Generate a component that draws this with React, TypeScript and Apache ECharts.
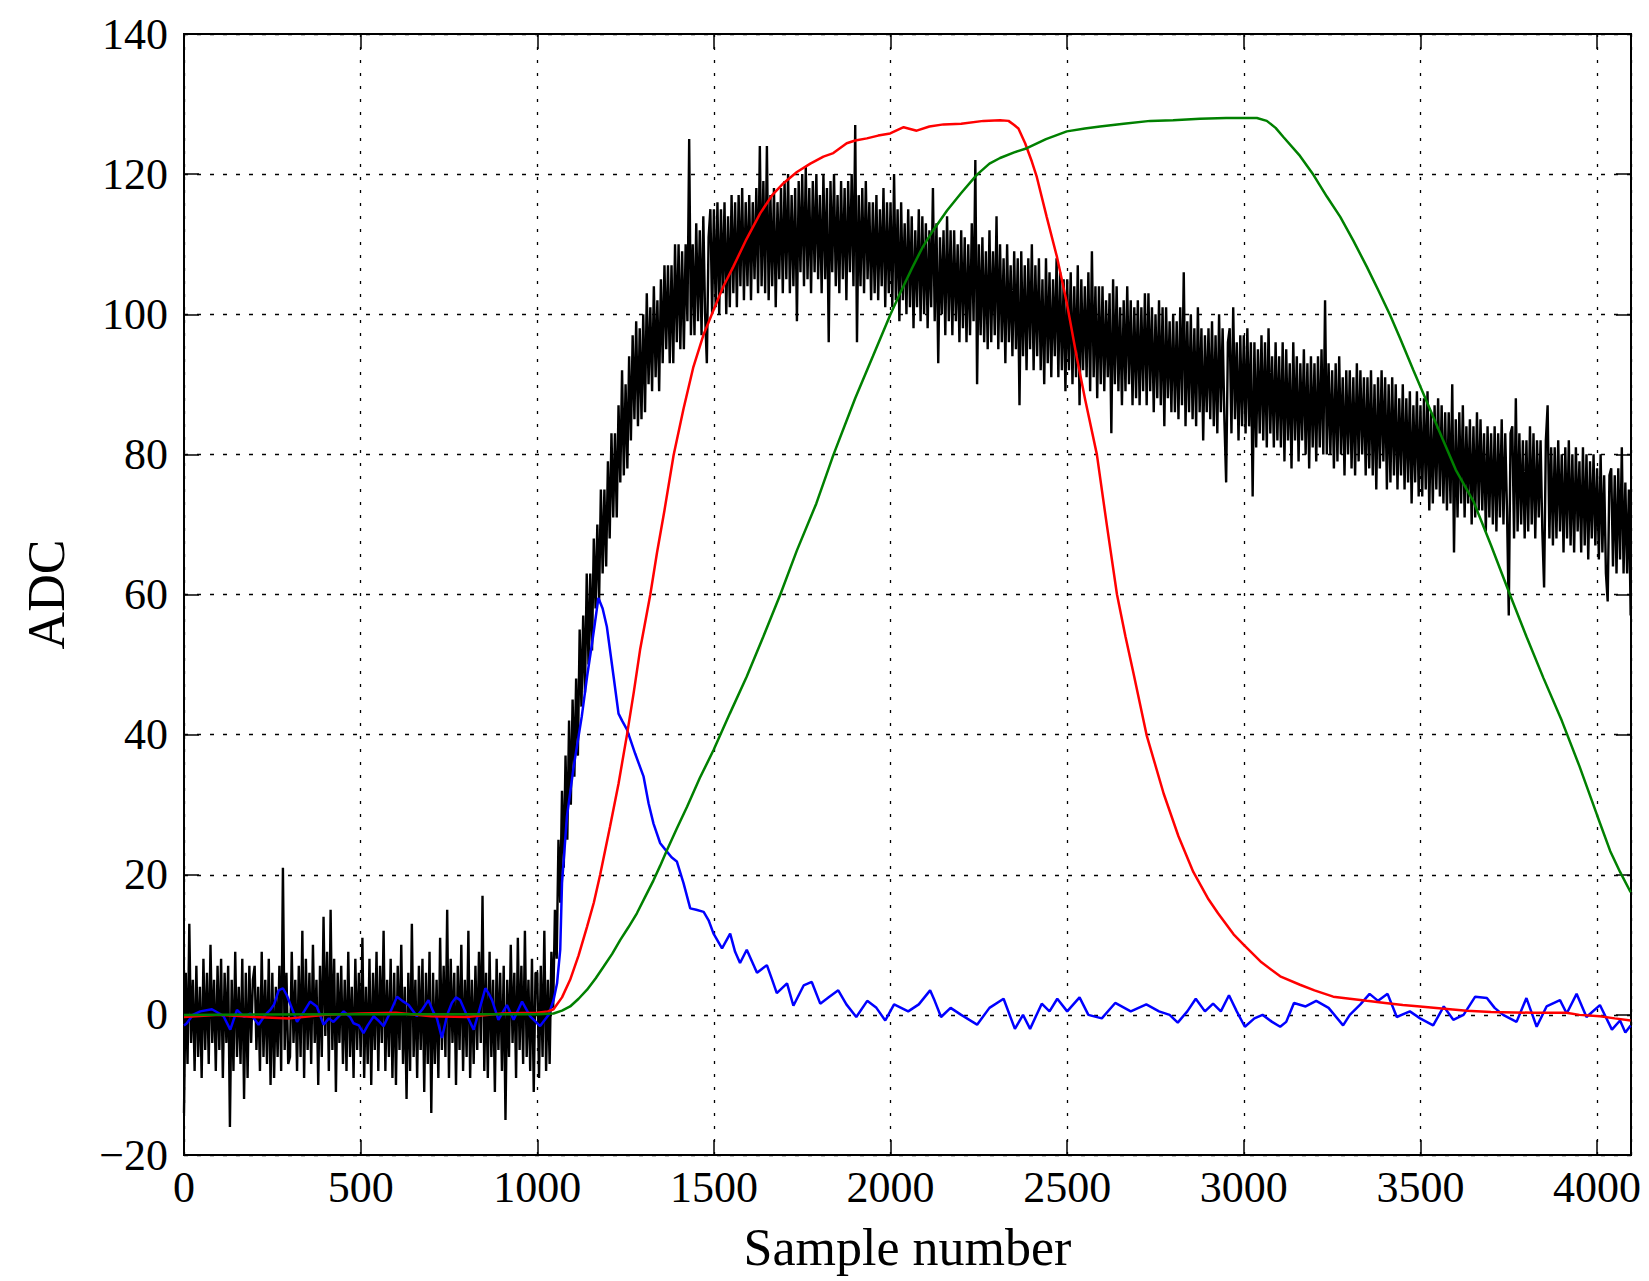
import React, { useEffect, useRef } from "react";
import * as echarts from "echarts";

// Black trace: one value every blackStep samples, from sample 0 to 4095
const blackStep = 5;
const blackValues: number[] = [
  -14, 6, -7, 13, -4, 5, -8, 7, -6, 4, -9, 8, -5, 6, -7, 10, -4, 5, -8, 7,
  -5, 8, -9, 6, -4, 7, -16, 5, -8, 9, -6, 4, -7, 8, -12, 6, -9, 7, -4, 5,
  7, -5, 4, -8, 9, -6, 5, -7, 8, -10, 6, -9, 4, -6, 7, -8, 21, -5, 6, -7,
  -6, 9, -4, 5, -8, 7, -6, 12, -9, 8, -5, 6, -7, 10, -4, 5, -10, 7, -6, 14,
  -3, 9, -8, 15, -5, 8, -11, 6, -4, 7, -7, 5, -8, 9, -6, 4, -9, 8, -5, 6,
  -6, 11, -9, 4, -7, 8, -10, 6, -5, 9, -8, 7, -4, 12, -8, 5, -6, 8, -9, 6,
  -10, 7, -5, 10, -7, 4, -12, 6, -8, 13, -6, 5, -9, 7, -5, 8, -11, 6, -7, 9,
  -14, 6, -7, 5, -9, 11, -5, 7, -6, 15, -9, 8, -4, 6, -10, 7, -5, 10, -8, 5,
  -6, 12, -9, 5, -7, 7, -5, 9, -4, 17, -8, 6, -9, 9, -6, 5, -11, 8, -5, 6,
  -8, 7, -15, 5, -6, 10, -4, 6, -9, 11, -5, 7, -7, 12, -6, 5, -8, 8, -11, 6,
  6, -9, 7, -6, 12, -8, 5, -7, 9, 1, 15, 8, 25, 16, 32, 21, 37, 25, 42, 30,
  45, 34, 48, 37, 55, 44, 57, 46, 63, 50, 63, 52, 68, 58, 70, 59, 75, 63, 75, 64,
  79, 68, 83, 71, 83, 71, 87, 76, 92, 77, 90, 78, 94, 82, 97, 85, 99, 84, 98, 85,
  100, 86, 103, 90, 101, 89, 104, 91, 102, 89, 105, 93, 107, 95, 107, 93, 107, 93, 110, 96,
  110, 95, 109, 95, 110, 99, 125, 97, 110, 97, 113, 99, 112, 97, 114, 100, 93, 111, 115, 100,
  115, 101, 116, 100, 115, 103, 116, 100, 114, 101, 117, 103, 116, 101, 117, 104, 118, 102, 116, 104,
  117, 102, 116, 105, 118, 103, 124, 104, 119, 103, 124, 102, 117, 104, 118, 101, 116, 105, 118, 103,
  119, 105, 120, 103, 117, 104, 118, 99, 119, 106, 120, 104, 121, 105, 118, 103, 119, 106, 120, 105,
  117, 103, 120, 105, 118, 96, 119, 106, 120, 104, 117, 103, 119, 105, 118, 102, 119, 106, 120, 104,
  127, 96, 117, 104, 118, 103, 119, 105, 116, 102, 116, 103, 117, 102, 115, 104, 118, 101, 116, 103,
  116, 101, 120, 102, 115, 99, 116, 102, 113, 100, 115, 101, 114, 98, 112, 101, 115, 99, 114, 100,
  113, 98, 112, 101, 118, 99, 113, 93, 111, 100, 112, 97, 114, 99, 112, 97, 112, 99, 110, 96,
  112, 98, 111, 96, 110, 97, 113, 99, 122, 90, 110, 97, 111, 96, 109, 95, 112, 96, 109, 97,
  114, 95, 110, 96, 108, 93, 110, 96, 107, 94, 109, 95, 108, 87, 109, 94, 107, 92, 108, 95,
  110, 92, 107, 94, 108, 92, 105, 90, 108, 93, 106, 91, 105, 94, 108, 91, 106, 92, 105, 89,
  105, 92, 106, 90, 104, 91, 107, 87, 105, 92, 104, 91, 106, 89, 109, 91, 104, 88, 104, 90,
  104, 89, 102, 91, 103, 83, 105, 90, 104, 89, 101, 87, 102, 89, 104, 90, 102, 87, 101, 88,
  102, 87, 101, 89, 103, 87, 103, 89, 101, 86, 100, 88, 102, 87, 101, 84, 101, 88, 99, 86,
  100, 86, 99, 85, 101, 87, 106, 84, 99, 86, 100, 85, 98, 84, 101, 86, 98, 82, 97, 86,
  98, 85, 99, 84, 97, 83, 100, 86, 98, 85, 76, 96, 98, 83, 101, 85, 96, 82, 97, 84,
  97, 83, 98, 84, 96, 74, 96, 81, 95, 83, 97, 82, 96, 81, 98, 83, 94, 81, 96, 82,
  94, 81, 96, 79, 95, 82, 93, 78, 96, 82, 94, 79, 93, 82, 95, 80, 93, 78, 94, 81,
  93, 79, 94, 81, 95, 80, 102, 80, 93, 80, 92, 78, 93, 79, 94, 80, 91, 77, 92, 80,
  92, 78, 91, 77, 93, 79, 92, 80, 91, 77, 91, 78, 92, 77, 90, 75, 91, 78, 92, 79,
  91, 75, 90, 76, 91, 77, 90, 75, 88, 77, 90, 75, 88, 76, 89, 73, 87, 76, 89, 74,
  87, 74, 88, 75, 89, 72, 86, 73, 87, 75, 88, 74, 87, 73, 86, 72, 86, 73, 90, 66,
  85, 71, 86, 73, 87, 71, 84, 73, 85, 70, 84, 71, 86, 72, 85, 72, 83, 69, 84, 71,
  83, 70, 84, 69, 83, 71, 85, 70, 83, 72, 57, 83, 84, 68, 88, 69, 83, 70, 82, 68,
  82, 69, 84, 70, 83, 68, 82, 71, 82, 69, 61, 82, 87, 68, 81, 67, 81, 68, 82, 69,
  80, 66, 81, 68, 82, 67, 80, 66, 81, 69, 79, 66, 81, 67, 80, 65, 79, 68, 80, 67,
  78, 65, 80, 66, 77, 63, 59, 77, 78, 64, 77, 63, 78, 65, 81, 63, 76, 63, 75, 57,
];

const bluePoints: [number, number][] = [
  [0, -1.5], [8, -1.2], [25, 0], [46, 0.5], [79, 0.8], [100, 0.2], [112, -0.2], [131, -2.1],
  [150, 0.7], [170, -0.3], [188, 0.2], [211, -1.4], [230, 0], [244, 0.7], [255, 1.5], [268, 3.5],
  [280, 3.8], [291, 2.8], [305, 1], [320, -1], [340, 0.5], [357, 1.9], [376, 1.2], [395, -1.4],
  [410, -0.5], [423, -1], [452, 0.5], [470, -0.3], [480, -1.2], [495, -1.5], [508, -2.6], [520, -1.5],
  [537, -0.2], [550, -0.8], [565, -1.6], [585, 0.5], [603, 2.6], [618, 2.0], [636, 1.4], [659, -0.2],
  [675, 0.8], [692, 2.1], [705, 0.5], [716, -0.5], [730, -3.3], [745, 0], [758, 1.7], [770, 2.5],
  [782, 2.1], [800, 0], [820, -2.1], [835, 0.5], [853, 3.8], [863, 3], [872, 2.1], [890, -0.7],
  [914, 1.4], [933, -0.7], [957, 1.9], [980, -0.2], [1008, -1.6], [1032, 0], [1046, 2.1], [1056, 4.5],
  [1065, 9.3], [1070, 18.8], [1084, 28.3], [1103, 35.4], [1126, 42.6], [1141, 48.3], [1155, 53],
  [1173, 59.5], [1185, 58], [1197, 55.4], [1216, 48.3], [1230, 43], [1240, 42], [1254, 40.7],
  [1277, 37.3], [1301, 34], [1315, 30.2], [1329, 27.3], [1348, 24.5], [1367, 23.3], [1380, 22.5],
  [1395, 21.9], [1414, 18.8], [1433, 15.2], [1450, 15], [1471, 14.7], [1485, 13.5], [1499, 11.6],
  [1523, 9.5], [1546, 11.6], [1560, 9], [1574, 7.4], [1593, 9.3], [1622, 6], [1650, 7.1], [1665, 5],
  [1678, 3.1], [1707, 4.5], [1725, 1.3], [1754, 4.2], [1777, 4.7], [1801, 1.6], [1825, 2.5],
  [1852, 3.5], [1875, 1.5], [1903, -0.3], [1934, 2], [1960, 1], [1985, -0.8], [2010, 1.5],
  [2050, 0.5], [2080, 1.5], [2112, 3.5], [2125, 2], [2143, -0.3], [2170, 1], [2200, 0], [2245, -1.4],
  [2280, 1], [2320, 2.3], [2352, -2], [2375, 0], [2395, -2], [2428, 1.6], [2450, 0.5], [2472, 2.3],
  [2500, 0.5], [2535, 2.5], [2560, 0], [2598, -0.5], [2636, 1.7], [2680, 0.5], [2724, 1.5],
  [2760, 0.5], [2790, 0], [2813, -1.1], [2840, 0.5], [2864, 2.3], [2890, 0.5], [2913, 1.6],
  [2935, 0.5], [2958, 2.8], [2980, 0.5], [3003, -1.7], [3030, -0.5], [3053, 0], [3080, -1],
  [3103, -1.7], [3120, -1], [3142, 1.7], [3175, 1.2], [3205, 2], [3240, 1], [3281, -1.5], [3300, 0],
  [3330, 1.5], [3356, 3], [3380, 2], [3407, 3], [3433, -0.3], [3470, 0.5], [3499, -0.5], [3536, -1.5],
  [3566, 1.2], [3593, -0.7], [3622, 0], [3655, 2.6], [3688, 2.4], [3710, 1], [3734, 0], [3772, -1],
  [3800, 2.4], [3829, -1.7], [3857, 1.2], [3895, 2.1], [3914, 0.2], [3942, 3], [3970, -0.3],
  [4008, 1.4], [4042, -2.1], [4065, -0.8], [4080, -2.5], [4095, -1.5],
];

const redPoints: [number, number][] = [
  [0, -0.3], [100, 0], [200, -0.3], [300, -0.5], [400, 0], [500, 0.2], [600, 0.3], [700, -0.2],
  [800, -0.3], [900, 0.2], [1000, 0.3], [1030, 0.5], [1046, 0.8], [1070, 2.5], [1093, 5],
  [1117, 8.5], [1141, 12.6], [1160, 16], [1178, 20], [1206, 26.9], [1230, 33], [1254, 40],
  [1273, 46], [1291, 52.1], [1320, 60], [1339, 66], [1360, 72], [1386, 79.9], [1414, 86.5],
  [1442, 92.5], [1470, 97], [1499, 100.6], [1527, 104], [1555, 106.8], [1590, 110.5], [1631, 114.4],
  [1665, 117], [1697, 118.7], [1735, 120.3], [1773, 121.5], [1810, 122.5], [1838, 123], [1876, 124.4],
  [1900, 124.8], [1933, 125.1], [1965, 125.5], [1999, 125.8], [2037, 126.7], [2074, 126.2],
  [2110, 126.8], [2150, 127.1], [2200, 127.2], [2263, 127.6], [2310, 127.7], [2334, 127.6],
  [2350, 127], [2362, 126.5], [2381, 124.4], [2400, 121.8], [2414, 119.6], [2442, 113.9],
  [2471, 108.2], [2499, 101.6], [2527, 93.9], [2551, 87.8], [2584, 80], [2612, 70], [2641, 60],
  [2665, 54], [2688, 48.7], [2725, 39.9], [2773, 31.6], [2815, 25.5], [2857, 20.4], [2900, 16.5],
  [2927, 14.5], [2971, 11.5], [3000, 10], [3050, 7.5], [3103, 5.5], [3159, 4.3], [3200, 3.5],
  [3253, 2.6], [3300, 2.3], [3348, 2], [3400, 1.7], [3450, 1.4], [3499, 1.2], [3560, 0.9],
  [3631, 0.6], [3700, 0.4], [3819, 0.3], [3913, 0.3], [3950, 0], [4008, -0.2], [4050, -0.5],
  [4095, -0.8],
];

const greenPoints: [number, number][] = [
  [0, 0], [500, 0.1], [1000, 0.1], [1046, 0.2], [1070, 0.6], [1093, 1.2], [1117, 2.3], [1141, 3.6],
  [1165, 5.2], [1188, 6.9], [1212, 8.7], [1235, 10.7], [1258, 12.5], [1282, 14.5], [1305, 16.8],
  [1329, 19.2], [1348, 21.3], [1367, 23.5], [1395, 26.6], [1424, 29.7], [1460, 33.8], [1499, 37.8],
  [1545, 43], [1593, 48.3], [1640, 54], [1688, 60], [1735, 66.3], [1790, 73], [1838, 79.9],
  [1900, 88], [1950, 94], [1999, 99.9], [2027, 103], [2060, 106.5], [2090, 109.5], [2121, 112],
  [2160, 114.8], [2200, 117.3], [2244, 119.9], [2280, 121.5], [2310, 122.3], [2350, 123.1],
  [2386, 123.7], [2440, 125], [2499, 126.1], [2550, 126.5], [2593, 126.8], [2660, 127.2],
  [2735, 127.6], [2800, 127.7], [2876, 127.9], [2950, 128], [2999, 128], [3037, 128], [3065, 127.6],
  [3090, 126.6], [3112, 125.3], [3159, 122.6], [3197, 119.9], [3235, 116.8], [3273, 113.9],
  [3310, 110.5], [3348, 106.8], [3380, 103.5], [3414, 99.9], [3442, 96.6], [3480, 92], [3518, 87.5],
  [3560, 82.5], [3600, 77.8], [3650, 73.3], [3700, 67], [3754, 59.9], [3800, 54], [3848, 48.1],
  [3900, 42], [3950, 35.5], [4000, 28.5], [4037, 23.4], [4065, 20.4], [4095, 17.5],
];

const xMin = 0;
const xMax = 4096;
const xInterval = 500;
const yMin = -20;
const yMax = 140;
const yInterval = 20;
const xTitle = "Sample number";
const yTitle = "ADC";

const FONT = "'Liberation Serif', 'DejaVu Serif', serif";

export default function App() {
  const ref = useRef<HTMLDivElement>(null);

  useEffect(() => {
    if (!ref.current) return;
    const chart = echarts.init(ref.current, undefined, { renderer: "svg" });

    const blackData = blackValues.map((v, i) => [i * blackStep, v]);

    const tickStyle = { show: true, inside: true, length: 15, lineStyle: { color: "#000", width: 1.5 } };
    const lineAx = { show: true, onZero: false, lineStyle: { color: "#000", width: 2 } };

    const option: any = {
      animation: false,
      backgroundColor: "#fff",
      grid: {
        left: 184,
        right: 18,
        top: 34,
        bottom: 126,
        show: true,
        borderColor: "#000",
        borderWidth: 2,
        backgroundColor: "transparent",
      },
      xAxis: [
        {
          type: "value",
          min: xMin,
          max: xMax,
          interval: xInterval,
          position: "bottom",
          name: xTitle,
          nameLocation: "middle",
          nameGap: 66,
          nameTextStyle: { fontFamily: FONT, fontSize: 52, color: "#000" },
          axisLine: lineAx,
          axisTick: tickStyle,
          axisLabel: {
            fontFamily: FONT,
            fontSize: 44,
            color: "#000",
            margin: 10,
            formatter: (v: number) => (v % xInterval === 0 ? String(v) : ""),
          },
          splitLine: { show: true, lineStyle: { color: "#000", width: 1.3, type: [3, 10] } },
        },
        {
          type: "value",
          min: xMin,
          max: xMax,
          interval: xInterval,
          position: "top",
          axisLine: lineAx,
          axisTick: tickStyle,
          axisLabel: { show: false },
          splitLine: { show: false },
        },
      ],
      yAxis: [
        {
          type: "value",
          min: yMin,
          max: yMax,
          interval: yInterval,
          position: "left",
          name: yTitle,
          nameLocation: "middle",
          nameGap: 112,
          nameTextStyle: { fontFamily: FONT, fontSize: 52, color: "#000" },
          axisLine: lineAx,
          axisTick: tickStyle,
          axisLabel: {
            fontFamily: FONT,
            fontSize: 44,
            color: "#000",
            margin: 16,
            formatter: (v: number) => (v < 0 ? "\u2212" + Math.abs(v) : String(v)),
          },
          splitLine: { show: true, lineStyle: { color: "#000", width: 1.3, type: [4, 9] } },
        },
        {
          type: "value",
          min: yMin,
          max: yMax,
          interval: yInterval,
          position: "right",
          axisLine: lineAx,
          axisTick: tickStyle,
          axisLabel: { show: false },
          splitLine: { show: false },
        },
      ],
      series: [
        {
          name: "raw",
          type: "line",
          data: blackData,
          showSymbol: false,
          symbol: "none",
          silent: true,
          lineStyle: { color: "#000", width: 2.4 },
          z: 2,
        },
        {
          name: "blue",
          type: "line",
          data: bluePoints,
          showSymbol: false,
          symbol: "none",
          silent: true,
          lineStyle: { color: "#0000ff", width: 2.5 },
          z: 3,
        },
        {
          name: "red",
          type: "line",
          data: redPoints,
          showSymbol: false,
          symbol: "none",
          silent: true,
          lineStyle: { color: "#ff0000", width: 2.5 },
          z: 4,
        },
        {
          name: "green",
          type: "line",
          data: greenPoints,
          showSymbol: false,
          symbol: "none",
          silent: true,
          lineStyle: { color: "#008000", width: 2.5 },
          z: 5,
        },
      ],
    };

    chart.setOption(option);
    return () => chart.dispose();
  }, []);

  return (
    <div
      ref={ref}
      style={{ position: "absolute", left: 0, top: 0, width: 1649, height: 1281, background: "#fff" }}
    />
  );
}
